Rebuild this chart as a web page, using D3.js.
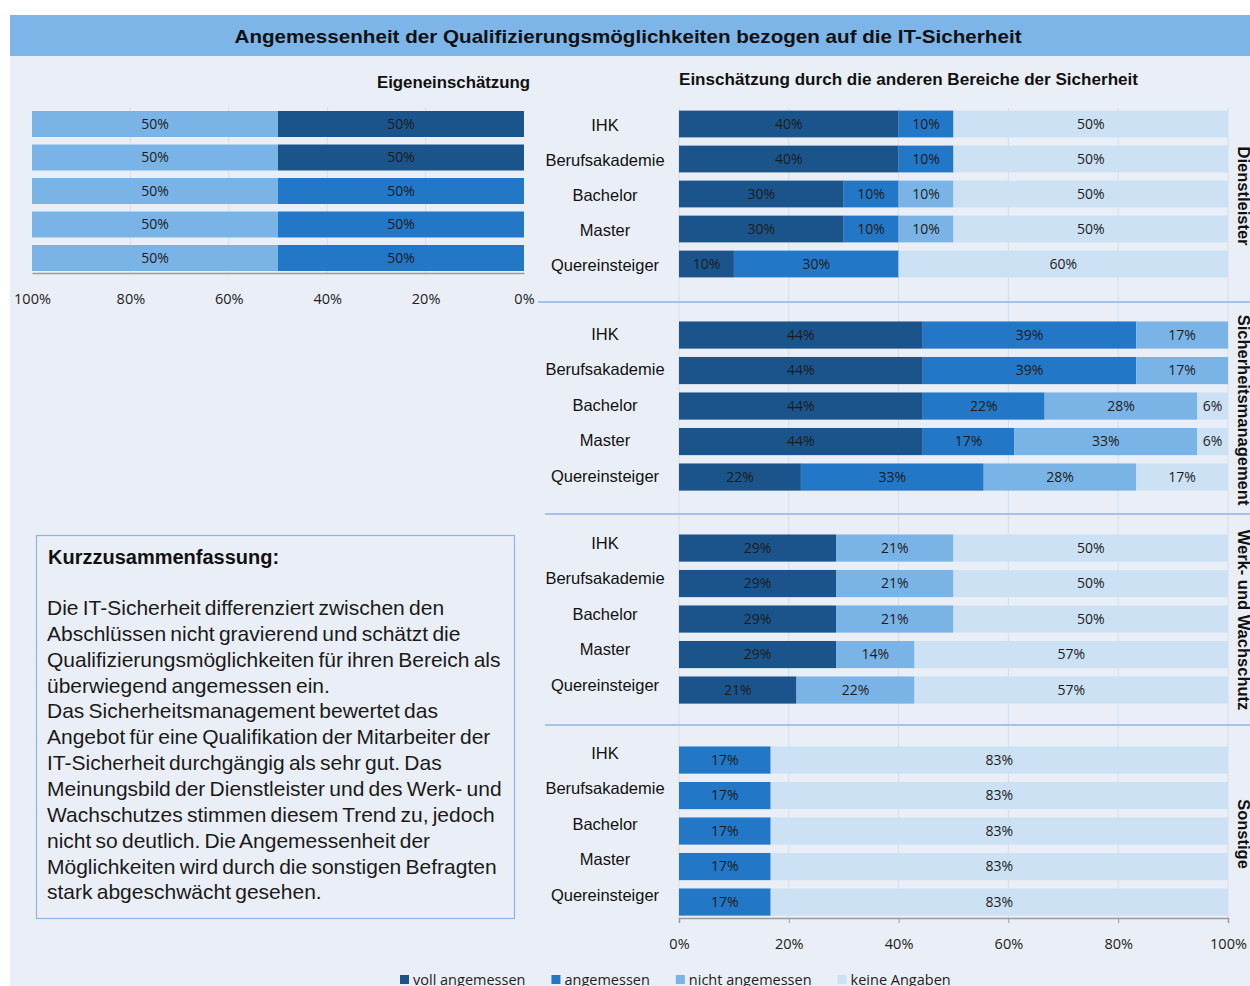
<!DOCTYPE html>
<html>
<head>
<meta charset="utf-8">
<script src="https://cdn.jsdelivr.net/npm/d3@7"></script>
<style>
  body { margin: 0; background: #fff; }
  svg { display: block; }
</style>
</head>
<body>
<script>
// categories / series
var categories = ["IHK", "Berufsakademie", "Bachelor", "Master", "Quereinsteiger"];
var seriesNames = ["voll angemessen", "angemessen", "nicht angemessen", "keine Angaben"];
var seriesColors = ["#1a548b", "#2277c6", "#7ab4e6", "#cce1f4"];

// Eigeneinschätzung (IT-Sicherheit)
var selfVoll = [50, 50, 0, 0, 0];
var selfAngemessen = [0, 0, 50, 50, 50];
var selfNicht = [50, 50, 50, 50, 50];
var selfKeine = [0, 0, 0, 0, 0];

// other areas
var groups = ["Dienstleister", "Sicherheitsmanagement", "Werk- und Wachschutz", "Sonstige"];
var dienstVoll = [40, 40, 30, 30, 10];
var dienstAngemessen = [10, 10, 10, 10, 30];
var dienstNicht = [0, 0, 10, 10, 0];
var dienstKeine = [50, 50, 50, 50, 60];

var smVoll = [44.4, 44.4, 44.4, 44.4, 22.2];
var smAngemessen = [38.9, 38.9, 22.2, 16.7, 33.3];
var smNicht = [16.7, 16.7, 27.8, 33.3, 27.8];
var smKeine = [0, 0, 5.6, 5.6, 16.7];

var werkVoll = [28.6, 28.6, 28.6, 28.6, 21.4];
var werkAngemessen = [0, 0, 0, 0, 0];
var werkNicht = [21.4, 21.4, 21.4, 14.3, 21.5];
var werkKeine = [50, 50, 50, 57.1, 57.1];

var sonstVoll = [0, 0, 0, 0, 0];
var sonstAngemessen = [16.7, 16.7, 16.7, 16.7, 16.7];
var sonstNicht = [0, 0, 0, 0, 0];
var sonstKeine = [83.3, 83.3, 83.3, 83.3, 83.3];

var ticks = [0, 20, 40, 60, 80, 100];

var summaryTitle = "Kurzzusammenfassung:";
var summaryLines = [
  "Die IT-Sicherheit differenziert zwischen den",
  "Abschlüssen nicht gravierend und schätzt die",
  "Qualifizierungsmöglichkeiten für ihren Bereich als",
  "überwiegend angemessen ein.",
  "Das Sicherheitsmanagement bewertet das",
  "Angebot für eine Qualifikation der Mitarbeiter der",
  "IT-Sicherheit durchgängig als sehr gut. Das",
  "Meinungsbild der Dienstleister und des Werk- und",
  "Wachschutzes stimmen diesem Trend zu, jedoch",
  "nicht so deutlich. Die Angemessenheit der",
  "Möglichkeiten wird durch die sonstigen Befragten",
  "stark abgeschwächt gesehen."
];

//build row objects for the stack
function rows(a, b, c, d) {
  return categories.map(function(cat, i) {
    return {cat: cat, "voll angemessen": a[i], "angemessen": b[i], "nicht angemessen": c[i], "keine Angaben": d[i]};
  });
}
var selfRows = rows(selfVoll, selfAngemessen, selfNicht, selfKeine);
var groupRows = [
  rows(dienstVoll, dienstAngemessen, dienstNicht, dienstKeine),
  rows(smVoll, smAngemessen, smNicht, smKeine),
  rows(werkVoll, werkAngemessen, werkNicht, werkKeine),
  rows(sonstVoll, sonstAngemessen, sonstNicht, sonstKeine)
];

var stack = d3.stack().keys(seriesNames);
var color = d3.scaleOrdinal(seriesNames, seriesColors);

var W = 1250, H = 986;
var svg = d3.select("body").append("svg").attr("width", W).attr("height", H);

svg.append("rect").attr("width", W).attr("height", H).attr("fill", "#fff");
svg.append("rect").attr("x", 10).attr("y", 15).attr("width", W - 10).attr("height", H - 15).attr("fill", "#eaeff7");
svg.append("rect").attr("x", 10).attr("y", 15).attr("width", W - 10).attr("height", 41).attr("fill", "#7db5e8");

svg.append("text").attr("x", 628).attr("y", 43)
  .attr("text-anchor", "middle")
  .attr("textLength", 787).attr("lengthAdjust", "spacingAndGlyphs")
  .style("font", "bold 19px 'Liberation Sans', Arial, sans-serif").attr("fill", "#111")
  .text("Angemessenheit der Qualifizierungsmöglichkeiten bezogen auf die IT-Sicherheit");

svg.append("text").attr("x", 377).attr("y", 88)
  .attr("textLength", 153).attr("lengthAdjust", "spacingAndGlyphs")
  .style("font", "bold 16px 'Liberation Sans', Arial, sans-serif").attr("fill", "#111")
  .text("Eigeneinschätzung");
svg.append("text").attr("x", 679).attr("y", 85)
  .attr("textLength", 459).attr("lengthAdjust", "spacingAndGlyphs")
  .style("font", "bold 16px 'Liberation Sans', Arial, sans-serif").attr("fill", "#111")
  .text("Einschätzung durch die anderen Bereiche der Sicherheit");

var labelFont = "14px 'Open Sans', sans-serif";
var tickFont = "14.5px 'Open Sans', sans-serif";
function fmt(v) { return Math.round(v) + "%"; }

//----- left chart (reversed axis)
var xSelf = d3.scaleLinear().domain([0, 100]).range([524, 32]);
var ySelf = d3.scaleBand().domain(categories).range([107.25, 107.25 + 5 * 33.5])
  .paddingInner(0.224).paddingOuter(0.112);

var left = svg.append("g");
left.selectAll(".grid").data(ticks.slice(1, 5)).enter().append("line")
  .attr("x1", function(d) { return xSelf(d); }).attr("x2", function(d) { return xSelf(d); })
  .attr("y1", 107).attr("y2", 273)
  .attr("stroke", "#d3deec").attr("stroke-width", 1);

var selfSeries = stack(selfRows);
left.selectAll(".ser").data(selfSeries).enter().append("g")
  .attr("fill", function(d) { return color(d.key); })
  .selectAll("rect").data(function(d) { return d; }).enter().append("rect")
  .attr("x", function(d) { return xSelf(d[1]); })
  .attr("width", function(d) { return xSelf(d[0]) - xSelf(d[1]); })
  .attr("y", function(d) { return ySelf(d.data.cat); })
  .attr("height", ySelf.bandwidth());

left.selectAll(".lblser").data(selfSeries).enter().append("g")
  .selectAll("text").data(function(d) { return d.filter(function(p) { return p[1] - p[0] > 0; }); })
  .enter().append("text")
  .attr("x", function(d) { return (xSelf(d[0]) + xSelf(d[1])) / 2; })
  .attr("y", function(d) { return ySelf(d.data.cat) + ySelf.bandwidth() / 2; })
  .attr("dy", "0.35em").attr("text-anchor", "middle")
  .style("font", labelFont).attr("fill", "#1c1c1c")
  .text(function(d) { return fmt(d[1] - d[0]); });

var leftAxis = left.append("g").attr("transform", "translate(0,273)")
  .call(d3.axisBottom(xSelf).tickValues(ticks).tickSize(0).tickPadding(21).tickFormat(function(d) { return d + "%"; }));
leftAxis.select(".domain").attr("stroke", "#9a9a9a").attr("stroke-width", 1.5);
leftAxis.selectAll("text").style("font", tickFont).attr("fill", "#222");

//----- right chart
var xOther = d3.scaleLinear().domain([0, 100]).range([679, 1228]);
var panelTops = [106.5, 317.3, 530.3, 742.3];
var panelSteps = [35, 35.5, 35.5, 35.5];
var labelShift = [1, -1, -5, -7];
var sideCenters = [196, 410, 620, 834];

var right = svg.append("g");
right.selectAll(".grid").data(ticks).enter().append("line")
  .attr("x1", function(d) { return xOther(d); }).attr("x2", function(d) { return xOther(d); })
  .attr("y1", 108).attr("y2", 918)
  .attr("stroke", "#d3deec").attr("stroke-width", 1);

//separator lines between the groups
[302, 514, 725].forEach(function(y, i) {
  right.append("line").attr("x1", i == 0 ? 538 : 545).attr("x2", W).attr("y1", y).attr("y2", y)
    .attr("stroke", "#8db3ea").attr("stroke-width", 1.5);
});

groups.forEach(function(g, gi) {
  var y = d3.scaleBand().domain(categories)
    .range([panelTops[gi], panelTops[gi] + 5 * panelSteps[gi]])
    .paddingInner(0.235).paddingOuter(0.1175);
  var series = stack(groupRows[gi]);
  var panel = right.append("g");

  panel.selectAll(".ser").data(series).enter().append("g")
    .attr("fill", function(d) { return color(d.key); })
    .selectAll("rect").data(function(d) { return d; }).enter().append("rect")
    .attr("x", function(d) { return xOther(d[0]); })
    .attr("width", function(d) { return xOther(d[1]) - xOther(d[0]); })
    .attr("y", function(d) { return y(d.data.cat); })
    .attr("height", y.bandwidth());

  panel.selectAll(".lblser").data(series).enter().append("g")
    .selectAll("text").data(function(d) { return d.filter(function(p) { return p[1] - p[0] > 0; }); })
    .enter().append("text")
    .attr("x", function(d) { return (xOther(d[0]) + xOther(d[1])) / 2; })
    .attr("y", function(d) { return y(d.data.cat) + y.bandwidth() / 2; })
    .attr("dy", "0.35em").attr("text-anchor", "middle")
    .style("font", labelFont).attr("fill", "#1c1c1c")
    .text(function(d) { return fmt(d[1] - d[0]); });

  panel.selectAll(".cat").data(categories).enter().append("text")
    .attr("x", 605)
    .attr("y", function(d) { return y(d) + y.bandwidth() / 2 + labelShift[gi]; })
    .attr("dy", "0.35em").attr("text-anchor", "middle")
    .style("font", "16.5px 'Liberation Sans', Arial, sans-serif").attr("fill", "#111")
    .text(function(d) { return d; });

  //group name, rotated at the right edge
  panel.append("text")
    .attr("transform", "translate(1238," + sideCenters[gi] + ") rotate(90)")
    .attr("text-anchor", "middle")
    .style("font", "bold 16.5px 'Liberation Sans', Arial, sans-serif").attr("fill", "#111")
    .text(g);
});

var rightAxis = right.append("g").attr("transform", "translate(0,918)")
  .call(d3.axisBottom(xOther).tickValues(ticks).tickSize(5).tickPadding(16).tickFormat(function(d) { return d + "%"; }));
rightAxis.select(".domain").attr("stroke", "#9a9a9a").attr("stroke-width", 1.5);
rightAxis.selectAll(".tick line").attr("stroke", "#9a9a9a");
rightAxis.selectAll("text").style("font", tickFont).attr("fill", "#222");

//----- summary box
var box = svg.append("g");
box.append("rect").attr("x", 36.5).attr("y", 535.5).attr("width", 478).attr("height", 383)
  .attr("fill", "none").attr("stroke", "#8fb4e8").attr("stroke-width", 1.2);
box.append("text").attr("x", 48).attr("y", 564)
  .style("font", "bold 20px 'Liberation Sans', Arial, sans-serif").attr("fill", "#111")
  .text(summaryTitle);
box.selectAll(".line").data(summaryLines).enter().append("text")
  .attr("x", 47)
  .attr("y", function(d, i) { return 615 + i * 25.85; })
  .style("font", "21px 'Liberation Sans', Arial, sans-serif")
  .style("word-spacing", "-1.6px")
  .attr("fill", "#1a1a1a")
  .text(function(d) { return d; });

//----- legend
var legend = svg.append("g");
var lx = 400;
seriesNames.forEach(function(name) {
  legend.append("rect").attr("x", lx).attr("y", 975).attr("width", 9).attr("height", 9).attr("fill", color(name));
  var t = legend.append("text").attr("x", lx + 13).attr("y", 985)
    .style("font", "14.5px 'Open Sans', sans-serif").attr("fill", "#222").text(name);
  lx += 13 + t.node().getComputedTextLength() + 26;
});
</script>
</body>
</html>
